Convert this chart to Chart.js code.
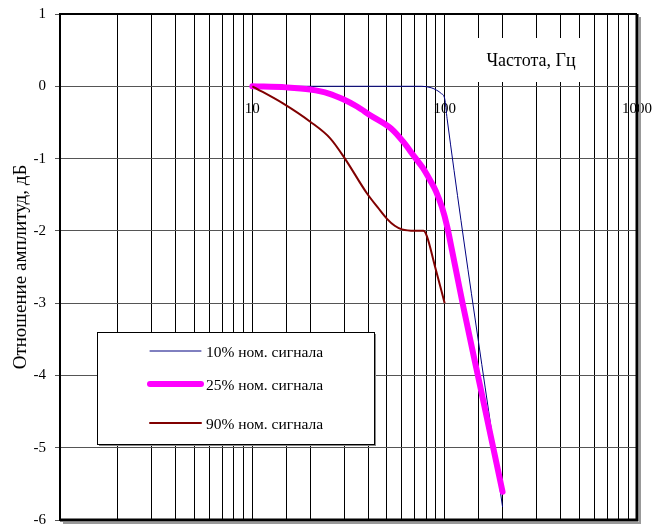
<!DOCTYPE html>
<html>
<head>
<meta charset="utf-8">
<script src="https://cdn.jsdelivr.net/npm/chart.js@4/dist/chart.umd.min.js"></script>
<style>
  html, body { margin: 0; padding: 0; background: #fff; }
  #wrap { width: 656px; height: 529px; }
</style>
</head>
<body>
<div id="wrap"><canvas id="chart"></canvas></div>
<script>
// частота, Гц / отношение амплитуд, дБ
const freq10 = [10, 20, 50, 76, 85, 91, 96, 100, 103, 200];
const amp10  = [0, 0, 0, 0, -0.02, -0.055, -0.1, -0.17, -0.45, -5.82];

const freq25 = [10, 15, 20, 25, 29.7, 35, 41, 53, 61, 69, 77, 84, 90, 97, 103, 109, 116, 125, 151, 200];
const amp25  = [0, -0.015, -0.045, -0.1, -0.18, -0.28, -0.4, -0.59, -0.77, -0.96, -1.13, -1.3, -1.45, -1.68, -1.94, -2.26, -2.62, -3.05, -4.08, -5.61];

const freq90 = [10, 14.5, 20, 25.4, 30.3, 39.4, 45, 50, 55, 60, 70, 77.5, 80.7, 89.2, 100];
const amp90  = [0, -0.24, -0.49, -0.72, -1.0, -1.48, -1.68, -1.83, -1.93, -1.98, -2.0, -2.0, -2.07, -2.5, -3.0];

const seriesNames = ["10% ном. сигнала", "25% ном. сигнала", "90% ном. сигнала"];
const xTickLabels = [10, 100, 1000];
const xTitle = "Частота, Гц";
const yTitle = "Отношение амплитуд, дБ";

const FONT = "'Liberation Serif', 'Times New Roman', serif";

function toPoints(xs, ys) {
    return xs.map((x, i) => ({ x: x, y: ys[i] }));
}

// рамка области построения
const frame = {
    id: "frame",
    afterDraw(chart) {
        const a = chart.chartArea;
        const c = chart.ctx;
        c.save();
        c.strokeStyle = "#999";
        c.lineWidth = 2;
        c.beginPath();
        c.moveTo(a.right + 3, a.top + 3);
        c.lineTo(a.right + 3, a.bottom + 3);
        c.lineTo(a.left + 3, a.bottom + 3);
        c.stroke();
        c.strokeStyle = "#000";
        c.lineWidth = 2;
        c.beginPath();
        c.moveTo(a.left, a.bottom);
        c.lineTo(a.left, a.top);
        c.lineTo(a.right, a.top);
        c.stroke();
        c.lineWidth = 3;
        c.beginPath();
        c.moveTo(a.right, a.top);
        c.lineTo(a.right, a.bottom);
        c.lineTo(a.left, a.bottom);
        c.stroke();
        c.restore();
    }
};

// подпись оси X и легенда внутри графика
const boxes = {
    id: "boxes",
    afterDraw(chart) {
        const c = chart.ctx;
        c.save();

        c.fillStyle = "#fff";
        c.fillRect(461, 38, 130, 44);
        c.fillStyle = "#000";
        c.font = "18px " + FONT;
        c.textAlign = "center";
        c.textBaseline = "middle";
        c.fillText(xTitle, 531, 61);

        const L = 97, T = 332, W = 277, H = 112;
        c.fillStyle = "#888";
        c.fillRect(L + 2, T + 2, W, H);
        c.fillStyle = "#fff";
        c.fillRect(L, T, W, H);
        c.strokeStyle = "#000";
        c.lineWidth = 1;
        c.strokeRect(L + 0.5, T + 0.5, W, H);

        const rows = [351, 384, 423];
        c.font = "15.5px " + FONT;
        c.textAlign = "left";
        chart.data.datasets.forEach((ds, i) => {
            c.strokeStyle = ds.borderColor;
            c.lineWidth = ds.borderWidth;
            c.lineCap = "round";
            c.beginPath();
            c.moveTo(150, rows[i]);
            c.lineTo(201, rows[i]);
            c.stroke();
            c.fillStyle = "#000";
            c.fillText(ds.label, 206, rows[i] + 2);
        });
        c.restore();
    }
};

function noPad(s) {
    s.paddingLeft = 0;
    s.paddingRight = 0;
    s.paddingTop = 0;
    s.paddingBottom = 0;
}

const chart = new Chart(document.getElementById("chart"), {
    type: "line",
    data: {
        datasets: [
            {
                label: seriesNames[0],
                data: toPoints(freq10, amp10),
                borderColor: "#000080",
                borderWidth: 1,
                order: 3
            },
            {
                label: seriesNames[1],
                data: toPoints(freq25, amp25),
                borderColor: "#ff00ff",
                borderWidth: 6,
                borderCapStyle: "round",
                order: 2
            },
            {
                label: seriesNames[2],
                data: toPoints(freq90, amp90),
                borderColor: "#800000",
                borderWidth: 2,
                order: 1
            }
        ]
    },
    options: {
        responsive: true,
        maintainAspectRatio: false,
        animation: false,
        cubicInterpolationMode: "monotone",
        elements: { point: { radius: 0 } },
        layout: { padding: { top: 14, right: 19, bottom: 9, left: 0 } },
        plugins: {
            legend: { display: false },
            tooltip: { enabled: false }
        },
        scales: {
            x: {
                type: "logarithmic",
                position: { y: 0 },
                min: 1,
                max: 1000,
                afterFit: noPad,
                border: { display: false },
                grid: { color: "#000", lineWidth: 1, drawTicks: false },
                ticks: {
                    autoSkip: false,
                    maxRotation: 0,
                    padding: 14,
                    color: "#000",
                    font: { family: FONT, size: 15 },
                    callback: (v) => xTickLabels.includes(v) ? String(v) : ""
                }
            },
            y: {
                min: -6,
                max: 1,
                afterFit: (s) => { noPad(s); s.width = 60; },
                border: { display: true, color: "#000", width: 2 },
                grid: { color: "#555", lineWidth: 1, tickLength: 5 },
                ticks: {
                    stepSize: 1,
                    padding: 9,
                    color: "#000",
                    font: { family: FONT, size: 15 }
                },
                title: {
                    display: true,
                    text: yTitle,
                    color: "#000",
                    padding: { top: 10, bottom: 0 },
                    font: { family: FONT, size: 19 }
                }
            }
        }
    },
    plugins: [frame, boxes]
});
</script>
</body>
</html>
